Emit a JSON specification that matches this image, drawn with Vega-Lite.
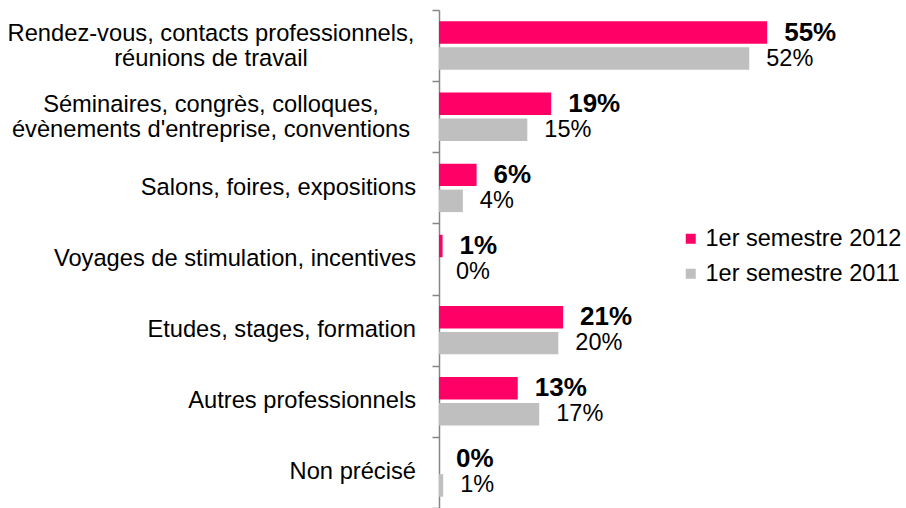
{
  "$schema": "https://vega.github.io/schema/vega-lite/v6.json",
  "autosize": "none",
  "width": 358,
  "height": 498,
  "padding": {"left": 439, "top": 10, "right": 109, "bottom": 0},
  "background": "white",
  "config": {"view": {"stroke": null}, "font": "Liberation Sans"},
  "datasets": {
    "main": [
      {"cat": "Rendez-vous, contacts professionnels, réunions de travail", "period": "1er semestre 2012", "value": 0.55},
      {"cat": "Rendez-vous, contacts professionnels, réunions de travail", "period": "1er semestre 2011", "value": 0.52},
      {"cat": "Séminaires, congrès, colloques, évènements d'entreprise, conventions", "period": "1er semestre 2012", "value": 0.188},
      {"cat": "Séminaires, congrès, colloques, évènements d'entreprise, conventions", "period": "1er semestre 2011", "value": 0.148},
      {"cat": "Salons, foires, expositions", "period": "1er semestre 2012", "value": 0.063},
      {"cat": "Salons, foires, expositions", "period": "1er semestre 2011", "value": 0.04},
      {"cat": "Voyages de stimulation, incentives", "period": "1er semestre 2012", "value": 0.006},
      {"cat": "Voyages de stimulation, incentives", "period": "1er semestre 2011", "value": 0.0},
      {"cat": "Etudes, stages, formation", "period": "1er semestre 2012", "value": 0.208},
      {"cat": "Etudes, stages, formation", "period": "1er semestre 2011", "value": 0.2},
      {"cat": "Autres professionnels", "period": "1er semestre 2012", "value": 0.132},
      {"cat": "Autres professionnels", "period": "1er semestre 2011", "value": 0.168},
      {"cat": "Non précisé", "period": "1er semestre 2012", "value": 0.0},
      {"cat": "Non précisé", "period": "1er semestre 2011", "value": 0.007}
    ],
    "labels": [
      {"cat": "Rendez-vous, contacts professionnels, réunions de travail", "l1": "Rendez-vous, contacts professionnels,", "l2": "réunions de travail"},
      {"cat": "Séminaires, congrès, colloques, évènements d'entreprise, conventions", "l1": "Séminaires, congrès, colloques,", "l2": "évènements d'entreprise, conventions"},
      {"cat": "Salons, foires, expositions", "l1": "Salons, foires, expositions"},
      {"cat": "Voyages de stimulation, incentives", "l1": "Voyages de stimulation, incentives"},
      {"cat": "Etudes, stages, formation", "l1": "Etudes, stages, formation"},
      {"cat": "Autres professionnels", "l1": "Autres professionnels"},
      {"cat": "Non précisé", "l1": "Non précisé"}
    ]
  },
  "data": {"name": "main"},
  "encoding": {
    "y": {
      "field": "cat",
      "type": "nominal",
      "sort": null,
      "title": null,
      "scale": {"paddingInner": 0, "paddingOuter": 0},
      "axis": {
        "title": null,
        "labels": false,
        "domainColor": "#868686",
        "domainWidth": 1.5,
        "tickColor": "#868686",
        "tickWidth": 1.5,
        "tickSize": 7,
        "tickBand": "extent"
      }
    }
  },
  "layer": [
    {
      "mark": {"type": "bar"},
      "encoding": {
        "yOffset": {
          "field": "period",
          "type": "nominal",
          "scale": {"domain": ["1er semestre 2012", "1er semestre 2011"], "paddingInner": 0.135, "paddingOuter": 0.437}
        },
        "x": {"field": "value", "type": "quantitative", "scale": {"domain": [0, 0.6]}, "axis": null},
        "color": {
          "field": "period",
          "type": "nominal",
          "scale": {"domain": ["1er semestre 2012", "1er semestre 2011"], "range": ["#FF0066", "#BFBFBF"]},
          "legend": {
            "title": null,
            "orient": "none",
            "legendX": 240,
            "legendY": 217,
            "padding": 0,
            "symbolType": "square",
            "symbolSize": 100,
            "symbolStrokeWidth": 0,
            "labelFont": "Liberation Sans",
            "labelFontSize": 23.5,
            "labelColor": "black",
            "labelOffset": 3,
            "labelLimit": 0,
            "rowPadding": 10
          }
        }
      }
    },
    {
      "transform": [{"filter": "datum.period == '1er semestre 2012'"}],
      "mark": {"type": "text", "align": "left", "baseline": "middle", "dx": 17, "fontSize": 26, "fontWeight": "bold", "color": "black", "font": "Liberation Sans"},
      "encoding": {
        "yOffset": {"field": "period", "type": "nominal"},
        "x": {"field": "value", "type": "quantitative"},
        "text": {"field": "value", "type": "quantitative", "format": ".0%"}
      }
    },
    {
      "transform": [{"filter": "datum.period == '1er semestre 2011'"}],
      "mark": {"type": "text", "align": "left", "baseline": "middle", "dx": 17, "fontSize": 23.5, "color": "black", "font": "Liberation Sans"},
      "encoding": {
        "yOffset": {"field": "period", "type": "nominal"},
        "x": {"field": "value", "type": "quantitative"},
        "text": {"field": "value", "type": "quantitative", "format": ".0%"}
      }
    },
    {
      "data": {"name": "labels"},
      "transform": [{"filter": "!datum.l2"}],
      "mark": {"type": "text", "align": "right", "baseline": "middle", "dx": -23, "fontSize": 23.7, "color": "black", "font": "Liberation Sans"},
      "encoding": {
        "x": {"datum": 0, "type": "quantitative"},
        "text": {"field": "l1", "type": "nominal"}
      }
    },
    {
      "data": {"name": "labels"},
      "transform": [{"filter": "datum.l2"}],
      "mark": {"type": "text", "align": "center", "baseline": "middle", "dx": -228, "dy": -12, "fontSize": 23.7, "color": "black", "font": "Liberation Sans"},
      "encoding": {
        "x": {"datum": 0, "type": "quantitative"},
        "text": {"field": "l1", "type": "nominal"}
      }
    },
    {
      "data": {"name": "labels"},
      "transform": [{"filter": "datum.l2"}],
      "mark": {"type": "text", "align": "center", "baseline": "middle", "dx": -228, "dy": 13, "fontSize": 23.7, "color": "black", "font": "Liberation Sans"},
      "encoding": {
        "x": {"datum": 0, "type": "quantitative"},
        "text": {"field": "l2", "type": "nominal"}
      }
    }
  ]
}
